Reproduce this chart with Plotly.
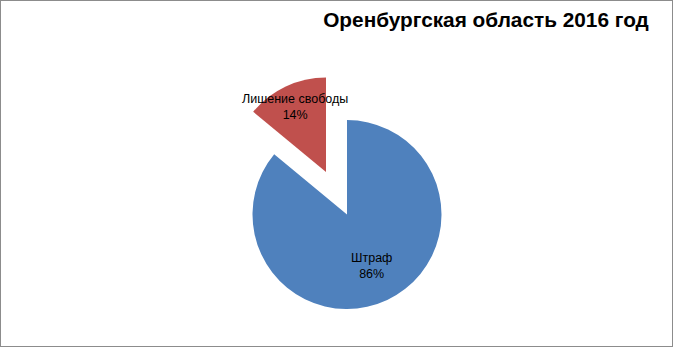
import math
import plotly.graph_objects as go

# data
labels = ["Штраф", "Лишение свободы"]
values = [86, 14]
colors = ["#4F81BD", "#C0504D"]
title_text = "Оренбургская область 2016 год"

W, H = 673, 347
R = 94.5
CX, CY = 347, 214.5           # main pie centre (px)
OFF = (-21, -42.5)            # explosion offset of slice 2 (px)
LABEL_K = [0.6, 0.76]         # label radius fraction

def dom(cx, cy, r):
    return dict(x=[(cx - r) / W, (cx + r) / W], y=[1 - (cy + r) / H, 1 - (cy - r) / H])

total = sum(values)
pcts = [round(100 * v / total) for v in values]

fig = go.Figure()
# main pie (exploded slice hidden)
fig.add_trace(go.Pie(
    labels=labels, values=values, sort=False, direction="clockwise", rotation=0,
    marker=dict(colors=[colors[0], "rgba(0,0,0,0)"], line=dict(width=0)),
    textinfo="none", hoverinfo="skip", showlegend=False,
    domain=dom(CX, CY, R),
))
# exploded slice
ecx, ecy = CX + OFF[0], CY + OFF[1]
fig.add_trace(go.Pie(
    labels=labels, values=values, sort=False, direction="clockwise", rotation=0,
    marker=dict(colors=["rgba(0,0,0,0)", colors[1]], line=dict(width=0)),
    textinfo="none", hoverinfo="skip", showlegend=False,
    domain=dom(ecx, ecy, R),
))

# labels
cum = 0
centers = [(CX, CY), (ecx, ecy)]
for i, (lab, v) in enumerate(zip(labels, values)):
    mid = (cum + v / 2) / total * 2 * math.pi
    cum += v
    cx, cy = centers[i]
    px = cx + math.sin(mid) * LABEL_K[i] * R
    py = cy - math.cos(mid) * LABEL_K[i] * R
    fig.add_annotation(x=px / W, y=1 - py / H, xref="paper", yref="paper",
                       text=f"{lab}<br>{pcts[i]}%", showarrow=False,
                       font=dict(family="Liberation Sans", size=12.5, color="#000000"),
                       xanchor="center", yanchor="middle")

fig.update_layout(
    width=W, height=H, margin=dict(l=0, r=0, t=0, b=0),
    paper_bgcolor="white", plot_bgcolor="white",
    title=dict(text=f"<b>{title_text}</b>", x=486 / W, xanchor="center",
               y=1 - 20 / H, yanchor="middle",
               font=dict(family="Liberation Sans", size=20.8, color="#000000")),
    shapes=[dict(type="rect", xref="paper", yref="paper", x0=0, y0=0, x1=1, y1=1,
                 line=dict(color="#8c8c8c", width=2))],
)

fig.write_html("out.html", config={"displayModeBar": False},
               post_script="document.body.style.margin='0';")
